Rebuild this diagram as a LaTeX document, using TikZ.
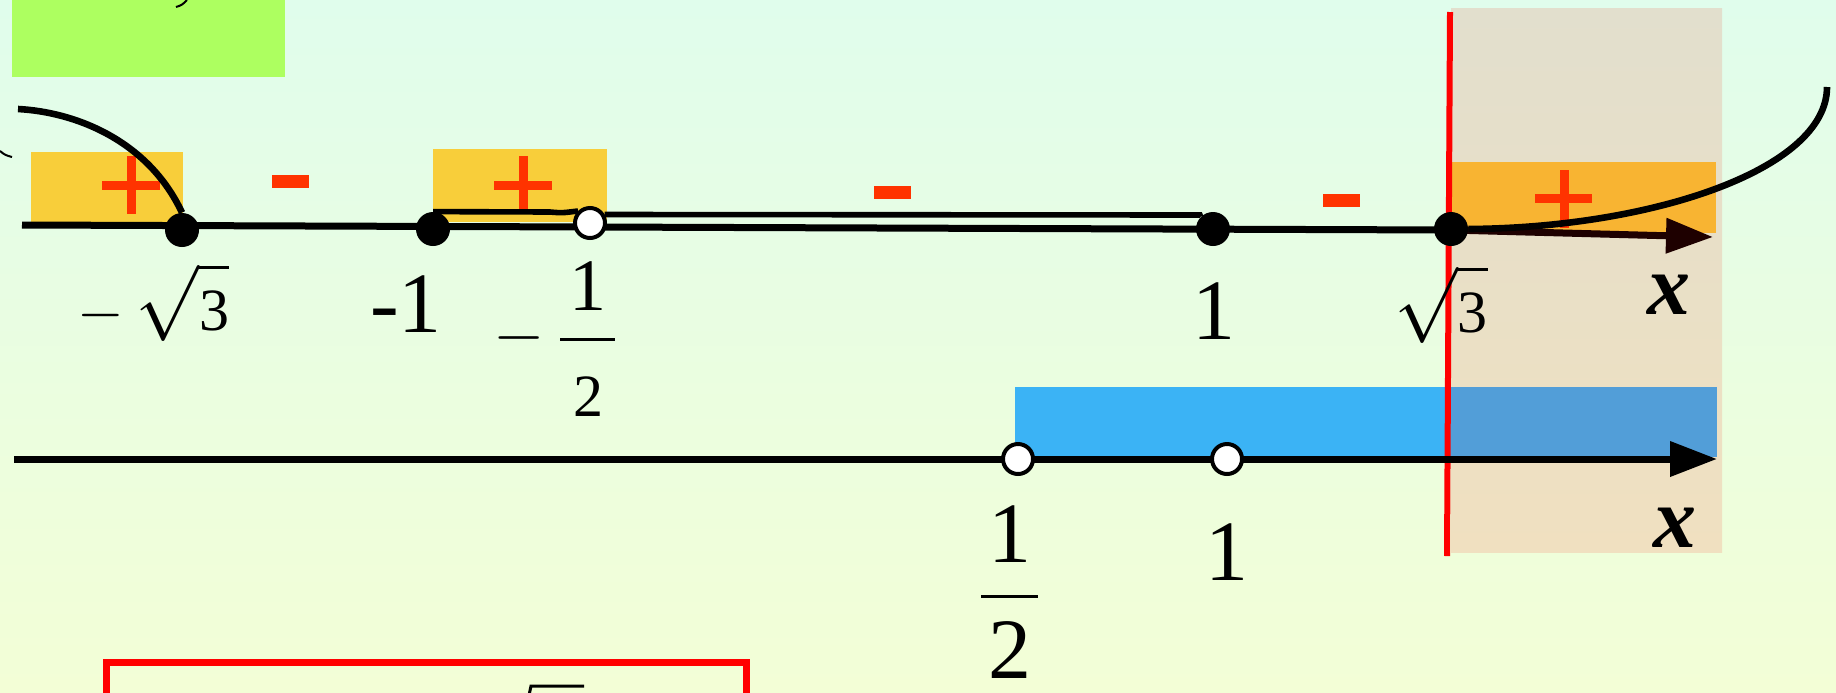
\documentclass[tikz,border=0pt]{standalone}
\usepackage{fontspec}
\setmainfont{Liberation Serif}
\DeclareFontFamily{OMX}{cmex}{}
\DeclareFontShape{OMX}{cmex}{m}{n}{<->cmex10}{}
\DeclareFontShape{OMS}{cmsy}{m}{n}{<->cmsy10}{}
\usetikzlibrary{arrows.meta}
\definecolor{bgtop}{RGB}{224,253,236}
\definecolor{bgbot}{RGB}{243,254,214}
\definecolor{beigetop}{RGB}{226,223,205}
\definecolor{beigebot}{RGB}{240,224,192}
\definecolor{greenbox}{RGB}{173,255,96}
\definecolor{yelbox}{RGB}{248,206,58}
\definecolor{orbox}{RGB}{248,180,50}
\definecolor{bluea}{RGB}{59,179,245}
\definecolor{blueb}{RGB}{82,158,216}
\definecolor{signred}{RGB}{255,51,0}
\definecolor{tipcol}{RGB}{30,0,0}
\newcommand{\rootthree}{{\fontsize{38}{44}\selectfont$\sqrt{\mbox{\fontsize{30}{36}\selectfont\rule{0pt}{24pt}3}}$}}
\newcommand{\smallminus}{{\fontsize{30}{36}\selectfont$-$}}
\tikzset{
  axisline/.style={line width=3.5pt, draw=black},
  axisarrow/.style={-{Triangle[length=23.5pt,width=17pt]}},
  fulldot/.style={circle, fill=black, minimum size=17pt, inner sep=0pt},
  opendot/.style={circle, fill=white, draw=black, line width=2pt, minimum size=15pt, inner sep=0pt},
  curvestyle/.style={line width=3.3pt, draw=black},
  flatcurve/.style={line width=2.8pt, draw=black},
  big/.style={font=\fontsize{43}{50}\selectfont, inner sep=0pt},
  mid/.style={font=\fontsize{37}{42}\selectfont, inner sep=0pt},
  small/.style={font=\fontsize{30}{36}\selectfont, inner sep=0pt},
  xlab/.style={font=\fontsize{43}{50}\selectfont\bfseries\itshape, inner sep=0pt},
}
\begin{document}
\begin{tikzpicture}[x=0.5pt,y=-0.5pt]
\useasboundingbox (0,0) rectangle (1836,692);
\clip (0,0) rectangle (1836,692);
% background
\shade[top color=bgtop, bottom color=bgbot] (0,0) rectangle (1836,692);
% green box
\fill[greenbox] (12,0) rectangle (285,77);
% fragments
\draw[line width=1pt] (176,7) .. controls (182,5) .. (187,0);
\draw[line width=1pt] (0,151) .. controls (5,155) .. (12,157);
% beige band
\shade[top color=beigetop, bottom color=beigebot] (1451,8) rectangle (1722,552);
% sign boxes
\fill[yelbox] (31,152) rectangle (183,222);
\fill[yelbox] (433,149) rectangle (607,222);
\fill[orbox] (1452,162) rectangle (1716,233);
% blue solution box
\fill[bluea] (1015,387) rectangle (1450,457);
\fill[blueb] (1450,387) rectangle (1717,457);
% red vertical line
\draw[red, line width=3pt] (1450,12) -- (1447,556);
% plus signs
\fill[signred] (126.5,156) rectangle (135.5,214);
\fill[signred] (102,180.5) rectangle (160,189.5);
\fill[signred] (518.5,156) rectangle (527.5,210);
\fill[signred] (494,180.5) rectangle (552,189.5);
\fill[signred] (1559.5,170) rectangle (1568.5,228);
\fill[signred] (1535,193.5) rectangle (1592,202.5);
% minus signs
\fill[signred] (272,175) rectangle (309,188);
\fill[signred] (874,186) rectangle (911,199);
\fill[signred] (1323,194) rectangle (1360,207);
% upper axis
\coordinate (ua0) at (22,225);
\coordinate (ua1) at (1451,230);
\coordinate (uaend) at (1713,237);
\draw[axisline] (ua0) -- (ua1);
\draw[axisline, axisarrow, draw=tipcol] (ua1) -- (uaend);
% lower axis
\coordinate (la0) at (14,459);
\coordinate (laend) at (1717,459);
\draw[axisline, axisarrow] (la0) -- (laend);
% upper points
\node[fulldot] (pms3) at (182,230) {};
\node[fulldot] (pm1) at (433,229) {};
\node[fulldot] (p1) at (1213,229) {};
\node[fulldot] (ps3) at (1451,229) {};
% curves
\coordinate (cstart) at (18,109);
\coordinate (cend) at (1827,87);
\draw[curvestyle] (cstart) .. controls (75,112) and (148,140) .. (pms3.north);
\draw[curvestyle] (ps3.east) .. controls (1650,228) and (1827,170) .. (cend);
\node[opendot] (pmh) at (590,223) {};
\draw[flatcurve] (pm1.north) -- (550,212) .. controls (562,213) .. (pmh.north west);
\draw[flatcurve] (pmh.30) -- (1200,215) -- (p1.north west);
% lower points
\node[opendot] (qh) at (1018,459) {};
\node[opendot] (q1) at (1227,459) {};
% labels upper
\node[small] (lms3) at (153,302) {\smallminus\hspace{6pt}\rootthree};
\node[big] (lm1) at (406,304) {-1};
\node[inner sep=0pt, font=\fontsize{33}{40}\selectfont] (lmhm) at (519,338) {$-$};
\node[mid] (lmhn) at (588,286) {1};
\draw[line width=1.5pt] (560,339) -- (615,339);
\node[small] (lmhd) at (588,397) {2};
\node[big] (l1) at (1214,311) {1};
\node[small] (ls3) at (1441,304) {\rootthree};
\node[xlab] (lx1) at (1669,295) {x};
% labels lower
\node[big] (lhn) at (1010,534) {1};
\draw[line width=1.5pt] (981,596) -- (1038,596);
\node[big] (lhd) at (1010,650) {2};
\node[big] (lq1) at (1227,552) {1};
\node[xlab] (lx2) at (1675,528) {x};
% red frame at bottom
\draw[red, line width=3.5pt] (106,720) -- (106,662) -- (746,662) -- (746,720);
\draw[line width=1.5pt] (528,700) -- (531,686) -- (584,686);
\end{tikzpicture}
\end{document}
